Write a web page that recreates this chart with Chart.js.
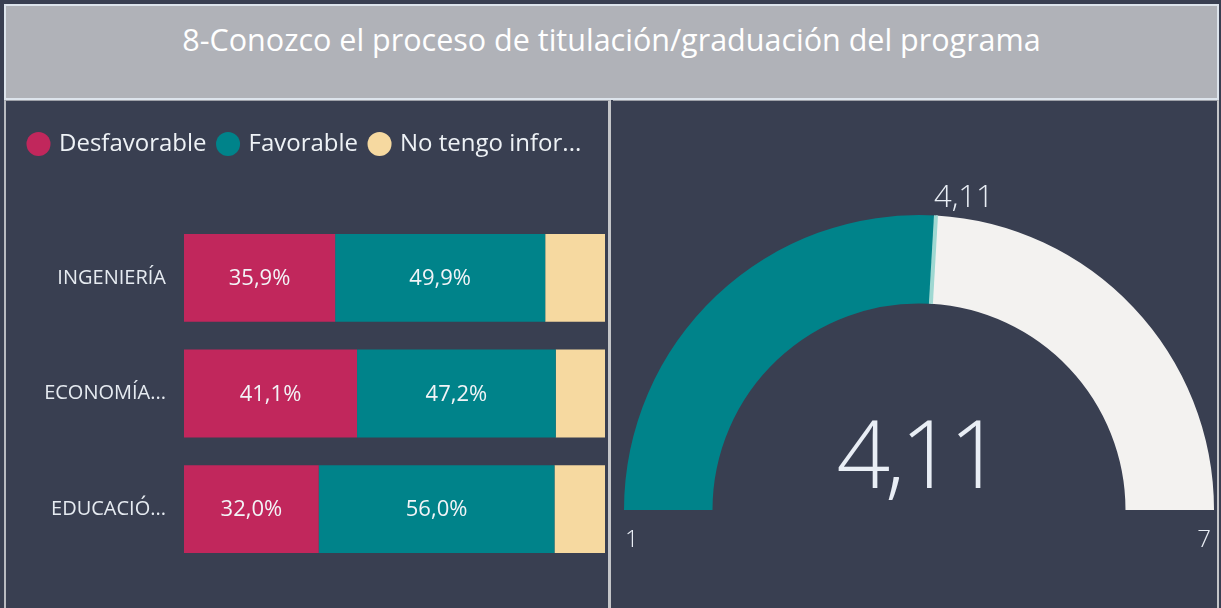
<!DOCTYPE html>
<html>
<head>
<meta charset="utf-8">
<script src="https://cdn.jsdelivr.net/npm/chart.js@4"></script>
<style>
  body { margin: 0; width: 1221px; height: 608px; background: #393f51; overflow: hidden; font-family: "Open Sans", sans-serif; }
  #titulo { position: absolute; left: 4px; top: 4px; width: 1211px; height: 92px; background: #b0b2b8; border: 2px solid #dde4ec;
    color: #fff; font-size: 30.5px; text-align: center; line-height: 66px; }
  #panelIzq { position: absolute; left: 4px; top: 100px; width: 602px; height: 508px; border-left: 2px solid #b9bbc0; border-right: 3px solid #c4c5c8; border-top: 1px solid #9ea1a8; }
  #panelDer { position: absolute; left: 613px; top: 100px; width: 604px; height: 508px; border-right: 2px solid #c4c5c8; border-top: 1px solid #9ea1a8; }
  canvas { position: absolute; left: 0; top: 0; }
</style>
</head>
<body>
<div id="titulo">8-Conozco el proceso de titulación/graduación del programa</div>
<div id="panelIzq"><canvas id="barras" width="602" height="508"></canvas></div>
<div id="panelDer"><canvas id="indicador" width="604" height="508"></canvas></div>
<script>
// datos
const categorias = ["INGENIERÍA", "ECONOMÍA...", "EDUCACIÓ..."];
const series = ["Desfavorable", "Favorable", "No tengo infor..."];
const desfavorable = [35.9, 41.1, 32.0];
const favorable = [49.9, 47.2, 56.0];
const sinInformacion = [14.2, 11.7, 12.0];
const colores = ["#c1275c", "#00838a", "#f6d9a0"];

const valorIndicador = 4.11;
const minimo = 1;
const maximo = 7;

function formatoComa(v, dec) {
  return v.toFixed(dec).replace(".", ",");
}

const etiquetasBarras = {
  id: "etiquetasBarras",
  afterDatasetsDraw(chart) {
    const ctx = chart.ctx;
    ctx.save();
    ctx.font = "22px 'Open Sans'";
    ctx.fillStyle = "#f2f4f7";
    ctx.textAlign = "center";
    ctx.textBaseline = "middle";
    [0, 1].forEach(i => {
      chart.getDatasetMeta(i).data.forEach((bar, j) => {
        const v = chart.data.datasets[i].data[j];
        ctx.fillText(formatoComa(v, 1) + "%", (bar.base + bar.x) / 2, bar.y + 1);
      });
    });
    ctx.restore();
  }
};

// espacio extra bajo la leyenda
const altoLeyenda = {
  id: "altoLeyenda",
  beforeInit(chart) {
    const fitOriginal = chart.legend.fit;
    chart.legend.fit = function () {
      fitOriginal.bind(chart.legend)();
      this.height += 54;
    };
  }
};

new Chart(document.getElementById("barras"), {
  type: "bar",
  data: {
    labels: categorias,
    datasets: [
      { label: series[0], data: desfavorable, backgroundColor: colores[0] },
      { label: series[1], data: favorable, backgroundColor: colores[1] },
      { label: series[2], data: sinInformacion, backgroundColor: colores[2] }
    ]
  },
  options: {
    indexAxis: "y",
    responsive: false,
    animation: false,
    layout: { padding: { top: 18, right: 3, bottom: 42, left: 11 } },
    datasets: { bar: { barPercentage: 0.76, categoryPercentage: 1, borderWidth: 0 } },
    scales: {
      x: { stacked: true, min: 0, max: 100, display: false },
      y: {
        stacked: true,
        grid: { display: false },
        border: { display: false },
        ticks: { color: "#e6ebf1", font: { size: 20, family: "Open Sans" }, padding: 10 },
        afterFit(scale) { scale.width = 167; }
      }
    },
    plugins: {
      legend: {
        position: "top",
        align: "start",
        labels: {
          color: "#eef2f6",
          font: { size: 24, family: "Open Sans" },
          usePointStyle: true,
          pointStyle: "circle",
          boxWidth: 17,
          boxHeight: 17,
          padding: 13
        }
      },
      tooltip: { enabled: false }
    }
  },
  plugins: [etiquetasBarras, altoLeyenda]
});

const textosIndicador = {
  id: "textosIndicador",
  afterDraw(chart) {
    const arco = chart.getDatasetMeta(0).data[0];
    const cx = arco.x, cy = arco.y, rExt = arco.outerRadius, rInt = arco.innerRadius;
    const ctx = chart.ctx;
    const frac = (valorIndicador - minimo) / (maximo - minimo);
    const ang = -Math.PI + Math.PI * frac;
    ctx.save();
    // marcador del objetivo
    ctx.strokeStyle = "#9fd8d2";
    ctx.lineWidth = 4;
    ctx.beginPath();
    ctx.moveTo(cx + Math.cos(ang) * rInt, cy + Math.sin(ang) * rInt);
    ctx.lineTo(cx + Math.cos(ang) * rExt, cy + Math.sin(ang) * rExt);
    ctx.stroke();

    ctx.fillStyle = "#e9eef5";
    ctx.textBaseline = "alphabetic";
    ctx.textAlign = "left";
    ctx.font = "300 31px 'Open Sans'";
    ctx.fillText(formatoComa(valorIndicador, 2), cx + Math.cos(ang) * rExt - 2, cy + Math.sin(ang) * rExt - 8);

    ctx.font = "300 24px 'Open Sans'";
    ctx.textAlign = "left";
    ctx.fillText(String(minimo), cx - rExt + 1, cy + 37);
    ctx.textAlign = "right";
    ctx.fillText(String(maximo), cx + rExt - 3, cy + 37);

    ctx.textAlign = "center";
    ctx.font = "300 94px 'Open Sans'";
    ctx.letterSpacing = "-5px";
    ctx.fillText(formatoComa(valorIndicador, 2), cx - 2, cy - 22);
    ctx.restore();
  }
};

new Chart(document.getElementById("indicador"), {
  type: "doughnut",
  data: {
    labels: ["Valor", "Resto"],
    datasets: [{
      data: [valorIndicador - minimo, maximo - valorIndicador],
      backgroundColor: ["#00838a", "#f3f2f0"],
      borderWidth: 0
    }]
  },
  options: {
    responsive: false,
    animation: false,
    rotation: -90,
    circumference: 180,
    cutout: "70%",
    layout: { padding: { left: 11, right: 3, top: 114, bottom: 99 } },
    plugins: { legend: { display: false }, tooltip: { enabled: false } }
  },
  plugins: [textosIndicador]
});
</script>
</body>
</html>
